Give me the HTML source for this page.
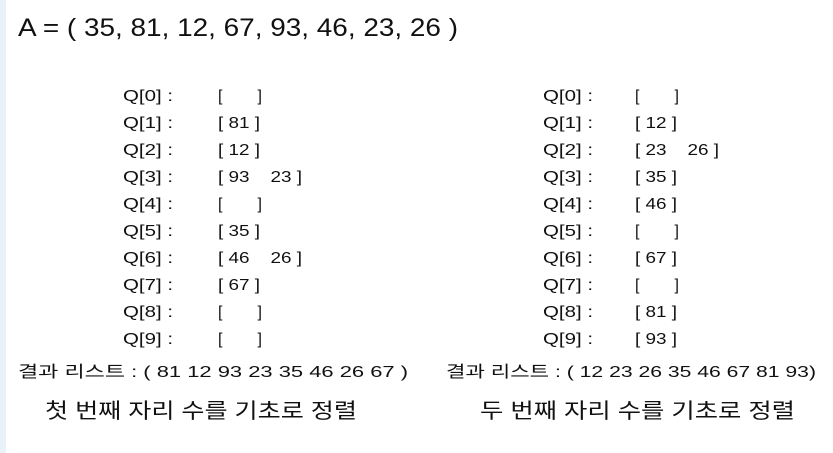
<!DOCTYPE html>
<html><head><meta charset="utf-8"><style>
html,body{margin:0;padding:0;background:#fff;}
svg{display:block;}
text{font-family:"Liberation Sans","Noto Sans CJK KR",sans-serif;fill:#111;}
</style></head><body>
<svg width="833" height="453">
<rect x="0" y="0" width="6" height="453" fill="#eaf1f8"/>
<text x="18" y="36" font-size="25" textLength="440" lengthAdjust="spacingAndGlyphs">A = ( 35, 81, 12, 67, 93, 46, 23, 26 )</text>
<g id="left"></g>
<g id="right"></g>
<text x="18" y="377" font-size="16" textLength="390" lengthAdjust="spacingAndGlyphs">결과 리스트 :  ( 81  12  93  23  35  46  26  67 )</text>
<text x="446" y="377" font-size="16" textLength="370" lengthAdjust="spacingAndGlyphs">결과 리스트 : ( 12  23  26  35  46  67  81  93)</text>
<text x="45" y="418" font-size="21" textLength="312" lengthAdjust="spacingAndGlyphs">첫 번째 자리 수를 기초로 정렬</text>
<text x="480" y="418" font-size="21" textLength="315" lengthAdjust="spacingAndGlyphs">두 번째 자리 수를 기초로 정렬</text>
</svg>
<script>
const leftQ=[[],[81],[12],[93,23],[],[35],[46,26],[67],[],[]];
const rightQ=[[],[12],[23,26],[35],[46],[],[67],[],[81],[93]];
const NS="http://www.w3.org/2000/svg";
function draw(id,data,qx,bx){
  const g=document.getElementById(id);
  data.forEach((items,i)=>{
    const y=101+i*27;
    const t=document.createElementNS(NS,'text');
    t.setAttribute('x',qx);t.setAttribute('y',y);t.setAttribute('font-size','16');
    t.setAttribute('textLength','50');t.setAttribute('lengthAdjust','spacingAndGlyphs');
    t.textContent='Q['+i+'] :';
    
    
    g.appendChild(t);
    const b=document.createElementNS(NS,'text');
    b.setAttribute('x',bx);b.setAttribute('y',y);b.setAttribute('font-size','16');
    b.setAttribute('xml:space','preserve');b.style.whiteSpace='pre';
    const s=items.length?'[ '+items.join('    ')+' ]':'[     ]';
    b.textContent=s;
    if(items.length){b.setAttribute('textLength',items.length>1?'84':'42');b.setAttribute('lengthAdjust','spacingAndGlyphs');}
    else{b.setAttribute('textLength','44');b.setAttribute('lengthAdjust','spacing');}
    
    
    g.appendChild(b);
  });
}
draw('left',leftQ,123,218);
draw('right',rightQ,543,635);
</script>
</body></html>
